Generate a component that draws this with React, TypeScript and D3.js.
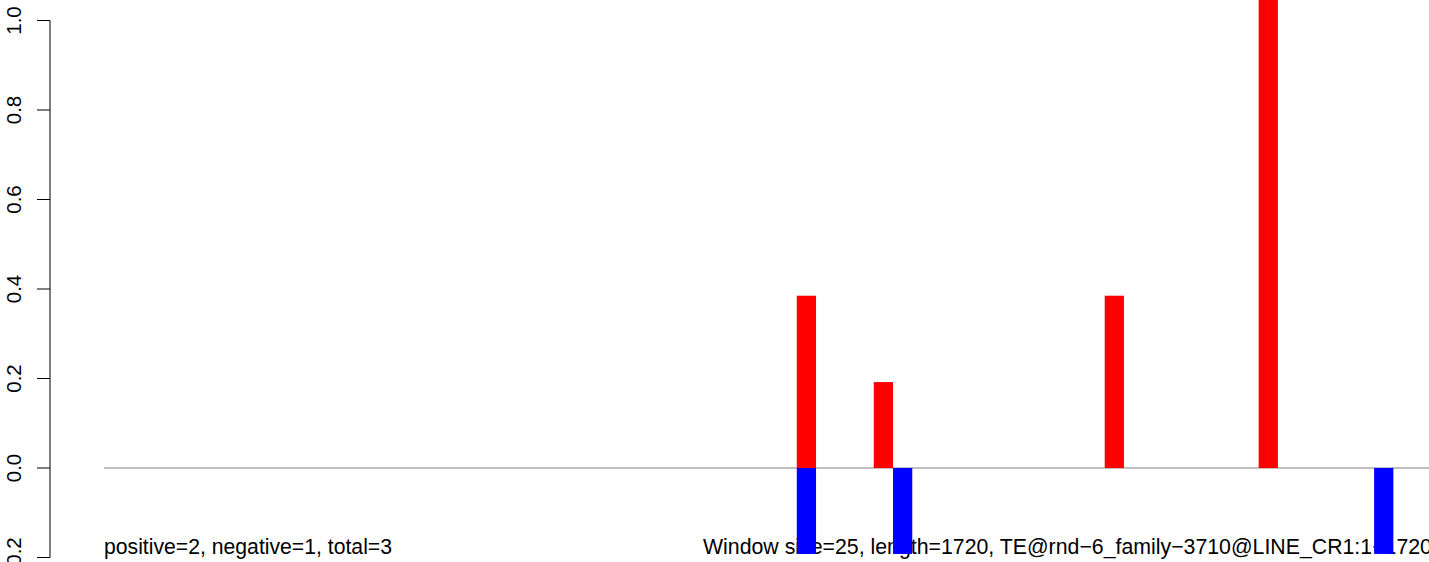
import React from "react";
import * as d3 from "d3";

const WIDTH = 1429;
const HEIGHT = 562;

const seqLength = 1720;
const windowSize = 25;
const yTicks = [-0.2, 0.0, 0.2, 0.4, 0.6, 0.8, 1.0];

const positiveStarts = [900, 1000, 1300, 1500];
const positiveValues = [0.385, 0.192, 0.385, 1.2];
const negativeStarts = [900, 1025, 1650];
const negativeValues = [-0.192, -0.192, -0.192];

const leftLabel = "positive=2, negative=1, total=3";
const rightLabel = "Window size=25, length=1720, TE@rnd\u22126_family\u22123710@LINE_CR1:1\u22121720";

export default function App() {
  const x = d3.scaleLinear().domain([0, seqLength]).range([104, 1428]);
  const y = d3.scaleLinear().domain([0, 1]).range([468, 20.5]);
  const bw = x(windowSize) - x(0);
  const font = "Liberation Sans, Arial, Helvetica, sans-serif";
  const fmt = d3.format(".1f");

  return (
    <svg
      width={WIDTH}
      height={HEIGHT}
      style={{ position: "fixed", left: 0, top: 0, background: "#fff" }}
      fontFamily={font}
    >
      <rect x={0} y={0} width={WIDTH} height={HEIGHT} fill="#fff" />
      {/* y axis */}
      <line x1={50} x2={50} y1={y(1.0)} y2={y(-0.2)} stroke="#000" strokeWidth={1} />
      {yTicks.map((t) => (
        <g key={t}>
          <line x1={37} x2={50} y1={y(t)} y2={y(t)} stroke="#000" strokeWidth={1} />
          <text
            transform={`translate(21,${y(t)}) rotate(-90)`}
            textAnchor="middle"
            fontSize={20.5}
            fill="#000"
          >
            {fmt(t).replace("-", "\u2212")}
          </text>
        </g>
      ))}
      {/* annotations */}
      <text x={104} y={554} fontSize={21.2} fill="#000">
        {leftLabel}
      </text>
      <text x={703} y={554} fontSize={21.3} fill="#000">
        {rightLabel}
      </text>
      {/* zero line */}
      <line x1={x(0)} x2={WIDTH} y1={y(0)} y2={y(0)} stroke="#808080" strokeWidth={1.2} />
      {/* bars */}
      {positiveStarts.map((s, i) => (
        <rect
          key={"p" + i}
          x={x(s)}
          width={bw}
          y={y(positiveValues[i])}
          height={y(0) - y(positiveValues[i])}
          fill="#ff0000"
        />
      ))}
      {negativeStarts.map((s, i) => (
        <rect
          key={"n" + i}
          x={x(s)}
          width={bw}
          y={y(0)}
          height={y(negativeValues[i]) - y(0)}
          fill="#0000ff"
        />
      ))}
    </svg>
  );
}
